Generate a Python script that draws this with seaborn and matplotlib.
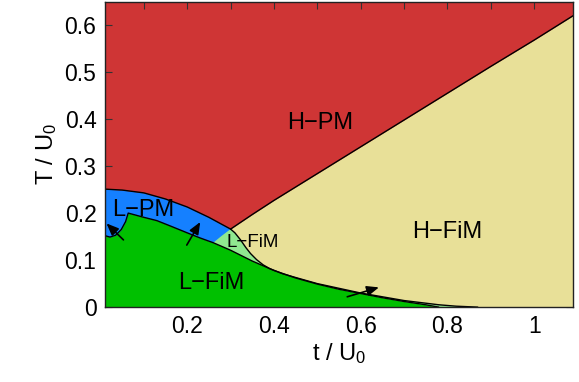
import numpy as np
import pandas as pd
import matplotlib
matplotlib.use("Agg")
import matplotlib.pyplot as plt
import seaborn as sns

# boundary curves (t/U0, T/U0)
lpm_top_x = [0.01, 0.05, 0.10, 0.15, 0.20, 0.25, 0.30]
lpm_top_y = [0.251, 0.249, 0.243, 0.230, 0.213, 0.191, 0.166]

hpm_x = [0.30, 0.35, 0.40, 0.50, 0.60, 0.70, 0.80, 0.90, 1.00, 1.09]
hpm_y = [0.166, 0.197, 0.227, 0.284, 0.341, 0.398, 0.455, 0.512, 0.568, 0.620]

lfim_x = [0.01, 0.022, 0.035, 0.048, 0.058, 0.064, 0.10, 0.13, 0.16, 0.20,
          0.23, 0.26, 0.30, 0.35, 0.40, 0.45, 0.50, 0.55, 0.60, 0.65,
          0.70, 0.75, 0.78]
lfim_y = [0.152, 0.149, 0.153, 0.165, 0.182, 0.200, 0.191, 0.184, 0.173, 0.158,
          0.147, 0.137, 0.121, 0.098, 0.078, 0.062, 0.049, 0.038, 0.029, 0.020,
          0.012, 0.005, 0.0]

# small L-FiM pocket: edge against L-PM, then edge against H-FiM
lfim2_x = [0.26, 0.28, 0.30, 0.31, 0.323, 0.335, 0.346, 0.36, 0.375, 0.39,
           0.42, 0.45, 0.50, 0.60, 0.70, 0.78, 0.82, 0.87]
lfim2_y = [0.137, 0.152, 0.166, 0.158, 0.143, 0.127, 0.114, 0.101, 0.090, 0.082,
           0.071, 0.063, 0.050, 0.030, 0.014, 0.005, 0.002, 0.0]

# arrows (tail, head)
arrow_tail = [(0.053, 0.143), (0.199, 0.132), (0.569, 0.022)]
arrow_head = [(0.014, 0.178), (0.230, 0.181), (0.642, 0.042)]

labels = ["H\u2212PM", "L\u2212PM", "L\u2212FiM", "H\u2212FiM", "L\u2212FiM"]
label_x = [0.507, 0.098, 0.35, 0.80, 0.255]
label_y = [0.391, 0.206, 0.138, 0.160, 0.051]
label_size = [17, 17, 13.5, 17, 17]

c_red = "#cf3535"
c_blue = "#1580ff"
c_green = "#00c000"
c_lgreen = "#90e890"
c_yellow = "#e8e098"

sns.set_theme(style="ticks")
plt.rcParams["font.family"] = ["Liberation Sans", "DejaVu Sans"]
plt.rcParams["mathtext.fontset"] = "custom"
plt.rcParams["mathtext.rm"] = "Liberation Sans"
plt.rcParams["mathtext.it"] = "Liberation Sans"

fig = plt.figure(figsize=(5.79, 3.82), dpi=100)
ax = fig.add_axes([0.181, 0.196, 0.809, 0.80])
ax.set_facecolor(c_red)

ax.fill_between(hpm_x, hpm_y, 0, color=c_yellow, lw=0)
ax.fill_between(lpm_top_x, lpm_top_y, 0, color=c_blue, lw=0)
ax.fill(lfim2_x + [0.26], lfim2_y + [0.0], color=c_lgreen, lw=0)
ax.fill_between(lfim_x, lfim_y, 0, color=c_green, lw=0)

lines = {
    "lpm": (lpm_top_x, lpm_top_y),
    "hpm": (hpm_x, hpm_y),
    "lfim": (lfim_x, lfim_y),
    "lfim2": (lfim2_x[2:], lfim2_y[2:]),
}
for name, (xs, ys) in lines.items():
    d = pd.DataFrame({"x": xs, "y": ys})
    sns.lineplot(data=d, x="x", y="y", sort=False, color="black", lw=1.0,
                 ax=ax, estimator=None)

for (x0, y0), (x1, y1) in zip(arrow_tail, arrow_head):
    ax.annotate("", xy=(x1, y1), xytext=(x0, y0),
                arrowprops=dict(arrowstyle="-|>,head_length=0.6,head_width=0.25",
                                color="black", lw=1.2, shrinkA=0, shrinkB=0))

for t, x, y, s in zip(labels, label_x, label_y, label_size):
    ax.text(x, y, t, ha="center", va="center", fontsize=s, color="black")

ax.set_xlim(0.01, 1.09)
ax.set_ylim(0, 0.65)
ax.set_xticks([0.2, 0.4, 0.6, 0.8, 1.0])
ax.set_xticklabels(["0.2", "0.4", "0.6", "0.8", "1"])
ax.set_xticks([0.1, 0.3, 0.5, 0.7, 0.9], minor=True)
ax.set_yticks([0, 0.1, 0.2, 0.3, 0.4, 0.5, 0.6])
ax.set_yticklabels(["0", "0.1", "0.2", "0.3", "0.4", "0.5", "0.6"])
ax.tick_params(which="both", direction="in", top=True, right=True,
               length=5, width=0.8, labelsize=16.5, pad=6, color="#333333",
               labelcolor="black")
ax.set_xlabel("t / U$_0$", fontsize=17, labelpad=2, color="black")
ax.set_ylabel("T / U$_0$", fontsize=17, labelpad=4, color="black")
for sp in ax.spines.values():
    sp.set_linewidth(1.0)
    sp.set_color("#222222")
    sp.set_zorder(5)

fig.savefig("out.png", dpi=100)
